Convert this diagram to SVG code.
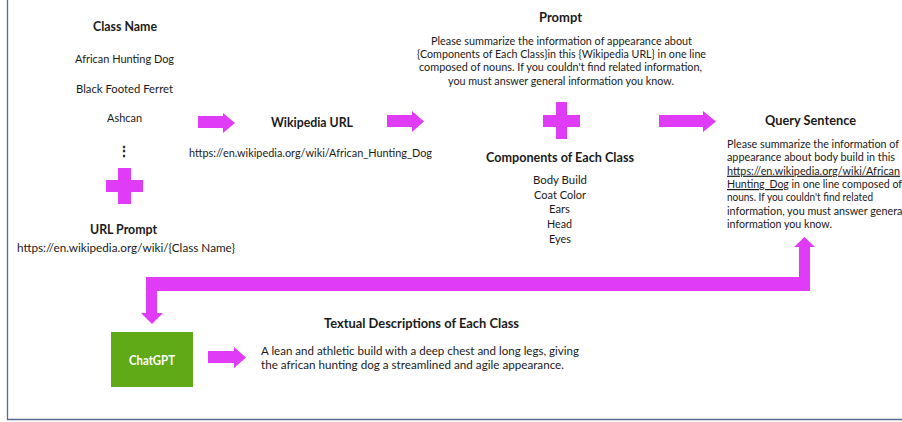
<svg xmlns="http://www.w3.org/2000/svg" width="902" height="422" viewBox="0 0 902 422">
<style>
text{font-family:Lato,"Liberation Sans",sans-serif;fill:#1a1a1a}
.t{font-size:12px}
.h{font-size:13.5px;font-weight:bold}
.c{text-anchor:middle}
.arrow{fill:#e03cf8}
.u{text-decoration:underline}
</style>
<rect x="0" y="0" width="902" height="422" fill="#ffffff"/>
<path d="M7.5 0 V419.5 H902" fill="none" stroke="#5a6a94" stroke-width="1.3"/>

<g id="class-name">
<text class="h" x="93" y="31" textLength="64" lengthAdjust="spacingAndGlyphs">Class Name</text>
<text class="t" x="75" y="63" textLength="99" lengthAdjust="spacingAndGlyphs">African Hunting Dog</text>
<text class="t" x="76" y="93" textLength="97" lengthAdjust="spacingAndGlyphs">Black Footed Ferret</text>
<text class="t" x="107" y="122" textLength="35" lengthAdjust="spacingAndGlyphs">Ashcan</text>
<text class="h c" x="123.5" y="156">⋮</text>
</g>

<g id="url-prompt">
<text class="h" x="90" y="234" textLength="67" lengthAdjust="spacingAndGlyphs">URL Prompt</text>
<text class="t" x="17" y="252" textLength="218" lengthAdjust="spacingAndGlyphs">https://en.wikipedia.org/wiki/{Class Name}</text>
</g>

<g id="wikipedia-url">
<text class="h" x="271" y="127" textLength="82" lengthAdjust="spacingAndGlyphs">Wikipedia URL</text>
<text class="t" x="189" y="157" textLength="243" lengthAdjust="spacingAndGlyphs">https://en.wikipedia.org/wiki/African_Hunting_Dog</text>
</g>

<g id="prompt">
<text class="h" x="539" y="22" textLength="43" lengthAdjust="spacingAndGlyphs">Prompt</text>
<text class="t" x="431" y="45" textLength="261" lengthAdjust="spacingAndGlyphs">Please summarize the information of appearance about</text>
<text class="t" x="417" y="58" textLength="289" lengthAdjust="spacingAndGlyphs">{Components of Each Class}in this {Wikipedia URL} in one line</text>
<text class="t" x="419" y="71" textLength="283" lengthAdjust="spacingAndGlyphs">composed of nouns. If you couldn't find related information,</text>
<text class="t" x="448" y="85" textLength="226" lengthAdjust="spacingAndGlyphs">you must answer general information you know.</text>
</g>

<g id="components">
<text class="h" x="486" y="162" textLength="148" lengthAdjust="spacingAndGlyphs">Components of Each Class</text>
<text class="t" x="533" y="184" textLength="54" lengthAdjust="spacingAndGlyphs">Body Build</text>
<text class="t" x="534" y="199" textLength="52" lengthAdjust="spacingAndGlyphs">Coat Color</text>
<text class="t" x="549" y="213" textLength="21" lengthAdjust="spacingAndGlyphs">Ears</text>
<text class="t" x="547" y="228" textLength="25" lengthAdjust="spacingAndGlyphs">Head</text>
<text class="t" x="549" y="243" textLength="22" lengthAdjust="spacingAndGlyphs">Eyes</text>
</g>

<g id="query-sentence">
<text class="h" x="765" y="125" textLength="91" lengthAdjust="spacingAndGlyphs">Query Sentence</text>
<text class="t" x="727" y="148" textLength="172" lengthAdjust="spacingAndGlyphs">Please summarize the information of</text>
<text class="t" x="727" y="161.3" textLength="168" lengthAdjust="spacingAndGlyphs">appearance about body build in this</text>
<text class="t u" x="727" y="174.7" textLength="173" lengthAdjust="spacingAndGlyphs">https://en.wikipedia.org/wiki/African</text>
<text class="t" x="727" y="188" textLength="175" lengthAdjust="spacingAndGlyphs"><tspan class="u">Hunting_Dog</tspan> in one line composed of</text>
<text class="t" x="727" y="201.3" textLength="146" lengthAdjust="spacingAndGlyphs">nouns. If you couldn't find related</text>
<text class="t" x="727" y="214.7" textLength="178" lengthAdjust="spacingAndGlyphs">information, you must answer general</text>
<text class="t" x="727" y="228" textLength="105" lengthAdjust="spacingAndGlyphs">information you know.</text>
</g>

<g id="chatgpt">
<rect x="111" y="332" width="82" height="55" fill="#60a917"/>
<text class="h" x="129" y="365" textLength="46" lengthAdjust="spacingAndGlyphs" style="fill:#ffffff">ChatGPT</text>
</g>

<g id="textual-descriptions">
<text class="h" x="324" y="328" textLength="195" lengthAdjust="spacingAndGlyphs">Textual Descriptions of Each Class</text>
<text class="t" x="261" y="355" textLength="318" lengthAdjust="spacingAndGlyphs">A lean and athletic build with a deep chest and long legs, giving</text>
<text class="t" x="261" y="369" textLength="303" lengthAdjust="spacingAndGlyphs">the african hunting dog a streamlined and agile appearance.</text>
</g>

<g id="connectors">
<polygon class="arrow" points="198,116 223,116 223,113 235,123 223,133 223,128 198,128"/>
<polygon class="arrow" points="387,115 412,115 412,111 424,121.5 412,132 412,127 387,127"/>
<polygon class="arrow" points="659,115 703,115 703,111 716,121.5 703,132 703,127 659,127"/>
<polygon class="arrow" points="208,351 234,351 234,347 246,357.5 234,368 234,363 208,363"/>
<path class="arrow" d="M118 168 H131 V180 H143 V192 H131 V204 H118 V192 H106 V180 H118 Z"/>
<path class="arrow" d="M556 102 H567 V115 H580 V127 H567 V139 H556 V127 H543 V115 H556 Z"/>
<polygon class="arrow" points="804.5,237 815,247 810,247 810,291 157,291 157,313 163,313 152,324 141,313 146,313 146,277 799,277 799,247 794,247"/>
</g>
</svg>
